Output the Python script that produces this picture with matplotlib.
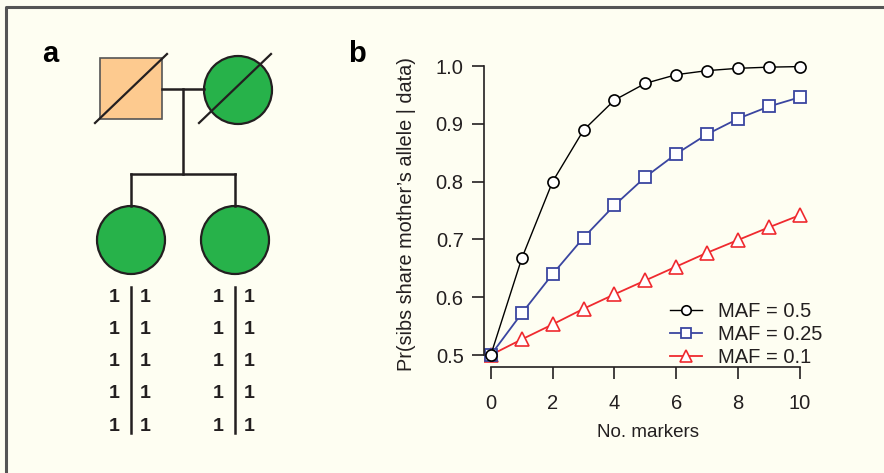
import numpy as np
import matplotlib.pyplot as plt
from matplotlib.patches import Rectangle, Circle

plt.rcParams['font.family'] = ['Liberation Sans', 'DejaVu Sans']

# ---- data for panel b ----
n_markers = [0, 1, 2, 3, 4, 5, 6, 7, 8, 9, 10]
maf_05 = [0.5, 0.667, 0.800, 0.889, 0.941, 0.970, 0.985, 0.992, 0.996, 0.998, 0.999]
maf_025 = [0.5, 0.572, 0.640, 0.703, 0.759, 0.808, 0.848, 0.882, 0.909, 0.930, 0.946]
maf_01 = [0.5, 0.527, 0.553, 0.580, 0.605, 0.629, 0.653, 0.677, 0.699, 0.721, 0.742]
series_labels = ['MAF = 0.5', 'MAF = 0.25', 'MAF = 0.1']
x_ticks = [0, 2, 4, 6, 8, 10]
y_ticks = [0.5, 0.6, 0.7, 0.8, 0.9, 1.0]

# ---- haplotypes for panel a ----
hap_rows = ['1', '1', '1', '1', '1']

bg = '#fefef2'
dark = '#231f20'
green = '#27b24a'
peach = '#fdca8f'

W, H = 884, 473
fig = plt.figure(figsize=(W / 100, H / 100), dpi=100)
fig.patch.set_facecolor(bg)

# overlay in pixel units for the pedigree and frame
pa = fig.add_axes([0, 0, 1, 1])
pa.set_xlim(0, W)
pa.set_ylim(H, 0)
pa.axis('off')
pa.patch.set_alpha(0)

# frame (top and left edges visible)
pa.plot([6, 6, W + 5], [H + 5, 7, 7], color='#555555', lw=2.2, solid_capstyle='butt')

# parents
pa.add_patch(Rectangle((100, 58), 62, 61, facecolor=peach, edgecolor='#555555', lw=1.2))
pa.plot([95, 167], [123, 54], color=dark, lw=1.6)
pa.add_patch(Circle((238, 90), 34, facecolor=green, edgecolor=dark, lw=1.6))
pa.plot([199, 271], [123, 54], color=dark, lw=1.6)

# connecting lines
pa.plot([162, 204], [89, 89], color=dark, lw=1.8)
pa.plot([183, 183], [89, 174], color=dark, lw=1.8)
pa.plot([131, 235], [174, 174], color=dark, lw=1.8)
pa.plot([131, 131], [174, 206], color=dark, lw=1.8)
pa.plot([235, 235], [174, 206], color=dark, lw=1.8)

# children
for cx in [131, 235]:
    pa.add_patch(Circle((cx, 240), 34, facecolor=green, edgecolor=dark, lw=1.6))
    pa.plot([cx, cx], [287, 433], color=dark, lw=1.8)
    for i, v in enumerate(hap_rows):
        y = 297 + i * 32.3
        pa.text(cx - 17, y, v, ha='center', va='center', fontsize=14,
                fontweight='bold', color=dark)
        pa.text(cx + 14, y, v, ha='center', va='center', fontsize=14,
                fontweight='bold', color=dark)

pa.text(50, 54, 'a', ha='center', va='center', fontsize=21, fontweight='bold', color='black')
pa.text(357, 54, 'b', ha='center', va='center', fontsize=21, fontweight='bold', color='black')

# ---- panel b ----
ax = fig.add_axes([484 / W, 1 - 367 / H, (812 - 484) / W, (367 - 60) / H])
ax.patch.set_alpha(0)
ax.set_xlim(-0.22, 10.39)
ax.set_ylim(0.5 - 12 / 578, 1.0 + 6 / 578)

ax.plot(n_markers, maf_05, '-o', color='black', lw=1.0, ms=8, mfc='white',
        mec='black', mew=1.2, label=series_labels[0], zorder=3)
ax.plot(n_markers, maf_025, '-s', color='#3a45a0', lw=1.3, ms=8.5, mfc='white',
        mec='#3a45a0', mew=1.3, label=series_labels[1], zorder=2)
ax.plot(n_markers, maf_01, '-^', color='#ef2a2f', lw=1.3, ms=9.5, mfc='white',
        mec='#ef2a2f', mew=1.2, label=series_labels[2], zorder=1)

for s in ['top', 'right']:
    ax.spines[s].set_visible(False)
ax.spines['left'].set_bounds(0.5, 1.0)
ax.spines['bottom'].set_bounds(0, 10)
ax.spines['left'].set_color(dark)
ax.spines['bottom'].set_color(dark)
ax.spines['left'].set_linewidth(1.2)
ax.spines['bottom'].set_linewidth(1.2)

ax.set_xticks(x_ticks)
ax.set_yticks(y_ticks)
ax.set_yticklabels(['%.1f' % v for v in y_ticks])
ax.tick_params(axis='both', length=8.6, width=1.2, color=dark, labelsize=14.5,
               labelcolor=dark, pad=6)
ax.tick_params(axis='x', pad=11)

ax.set_xlabel('No. markers', fontsize=13.5, color=dark, labelpad=8)
ax.set_ylabel('Pr(sibs share mother\u2019s allele | data)', fontsize=14.3, color=dark, labelpad=14)

ax.legend(loc='lower right', bbox_to_anchor=(1.088, -0.058), frameon=False, fontsize=14.5,
          handlelength=1.6, handletextpad=0.8, labelspacing=0.2, labelcolor=dark,
          markerscale=0.85)

fig.savefig('out.png', dpi=100, facecolor=bg)
